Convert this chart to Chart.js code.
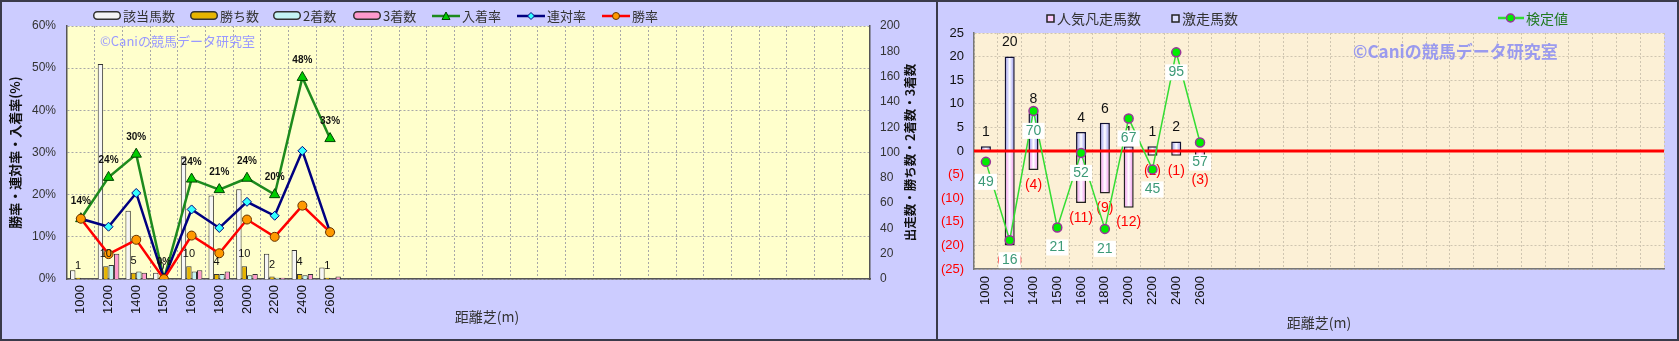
<!DOCTYPE html>
<html lang="ja">
<head>
<meta charset="utf-8">
<title>距離別成績</title>
<script src="https://cdn.jsdelivr.net/npm/chart.js@4.4.0/dist/chart.umd.min.js"></script>
<style>
  html, body { margin: 0; padding: 0; background: #ccccff; }
  #wrap { position: relative; width: 1679px; height: 341px; background: #ccccff; overflow: hidden; }
  .panel { position: absolute; top: 0; height: 341px; }
  #left { left: 0; width: 936px; }
  #right { left: 938px; width: 741px; }
  .frame { position: absolute; top: 0; height: 341px; box-sizing: border-box; border: 2px solid #3a3a4a; pointer-events: none; }
  .lg { position: absolute; display: flex; align-items: center; white-space: nowrap; line-height: 1;
        font-family: "Noto Sans CJK JP", sans-serif; color: #333; }
  .lg svg { display: block; margin-right: 2px; }
</style>
</head>
<body>
<div id="wrap">
  <div class="panel" id="left"><canvas id="rateChart"></canvas></div>
  <div class="panel" id="right"><canvas id="surgeChart"></canvas></div>
  <div class="frame" style="left:0;width:938px"></div>
  <div class="frame" style="left:936px;width:743px"></div>
</div>
<script>
// ---- data ----
const distances = ["1000", "1200", "1400", "1500", "1600", "1800", "2000", "2200", "2400", "2600"];
const slotCount = 29; // the x axis keeps empty slots after 2600
const xLabels = distances.concat(Array(slotCount - distances.length).fill(""));

// left chart: counts
const runners = [7, 170, 54, 5, 97, 66, 71, 20, 23, 9];   // 該当馬数
const wins = [1, 10, 5, 0, 10, 4, 10, 2, 4, 1];           // 勝ち数
const seconds = [0, 11, 6, 0, 6, 4, 3, 1, 3, 0];          // 2着数
const thirds = [0, 20, 5, 0, 7, 6, 4, 1, 4, 2];           // 3着数
// left chart: rates (%)
const placeRate = [14.3, 24.1, 29.6, 0, 23.7, 21.2, 23.9, 20.0, 47.8, 33.3];    // 入着率
const quinellaRate = [14.3, 12.4, 20.4, 0, 16.5, 12.1, 18.3, 15.0, 30.4, 11.1]; // 連対率
const winRate = [14.3, 5.9, 9.3, 0, 10.3, 6.1, 14.1, 10.0, 17.4, 11.1];         // 勝率
const rateTicks = [0, 10, 20, 30, 40, 50, 60];

// right chart
const surgeCount = [1, 20, 8, 0, 4, 6, 1, 1, 2, 0];       // 激走馬数
const flopCount = [0, 20, 4, 0, 11, 9, 12, 1, 1, 3];      // 人気凡走馬数 (drawn below zero)
const testValue = [-2.3, -18.9, 8.5, -16.2, -0.4, -16.5, 6.9, -3.9, 20.9, 1.8]; // 検定値 (plot position)
const testLabels = ["49", "16", "70", "21", "52", "21", "67", "45", "95", "57"];

const JP = '"Noto Sans CJK JP", sans-serif';
const NUM = '"Liberation Sans", Arial, sans-serif';
Chart.defaults.font.family = NUM;
Chart.defaults.animation = false;

// ---- html legends ----
function barIcon(fill) {
    return `<svg width="28" height="9" viewBox="0 0 28 9"><rect x="0.75" y="0.75" width="26.5" height="7.5" rx="3.5" fill="${fill}" stroke="#333" stroke-width="1.5"/></svg>`;
}
function lineIcon(color, marker, w) {
    return `<svg width="${w}" height="12" viewBox="0 0 ${w} 12"><line x1="0" y1="6" x2="${w}" y2="6" stroke="${color}" stroke-width="2.5"/>${marker}</svg>`;
}
function boxIcon(fill) {
    return `<svg width="9" height="9" viewBox="0 0 9 9"><rect x="1" y="1" width="7" height="7" fill="${fill}" stroke="#222" stroke-width="1.5"/></svg>`;
}
function addLegend(items, top, size) {
    const wrap = document.getElementById("wrap");
    items.forEach((it) => {
        const d = document.createElement("div");
        d.className = "lg";
        d.style.left = it.x + "px";
        d.style.top = top + "px";
        d.style.fontSize = size + "px";
        if (it.color) d.style.color = it.color;
        d.innerHTML = it.icon + "<span>" + it.text + "</span>";
        wrap.appendChild(d);
    });
}
addLegend([
    {x: 93, text: "該当馬数", icon: barIcon("#f4f4f4")},
    {x: 190, text: "勝ち数", icon: barIcon("#e6b400")},
    {x: 273, text: "2着数", icon: barIcon("#c4f4f4")},
    {x: 353, text: "3着数", icon: barIcon("#ff99cc")},
    {x: 432, text: "入着率", icon: lineIcon("#1d8a1d", '<polygon points="14,2 18,9.5 10,9.5" fill="#00cc00" stroke="#004400"/>', 28)},
    {x: 517, text: "連対率", icon: lineIcon("#000080", '<polygon points="14,2.5 17.5,6 14,9.5 10.5,6" fill="#33ffff" stroke="#000080"/>', 28)},
    {x: 602, text: "勝率", icon: lineIcon("#ff0000", '<circle cx="14" cy="6" r="3.5" fill="#ff9900" stroke="#663300"/>', 28)}
], 9, 13);
addLegend([
    {x: 1046, text: "人気凡走馬数", icon: boxIcon("#ffccff")},
    {x: 1171, text: "激走馬数", icon: boxIcon("#dde0ff")},
    {x: 1498, text: "検定値", color: "#1f7a1f", icon: lineIcon("#33dd33", '<circle cx="12.5" cy="6" r="4" fill="#00ee00" stroke="#993399" stroke-width="1.5"/>', 26)}
], 11, 14);

function drawText(ctx, text, x, y, font, color, rotate) {
    ctx.save();
    ctx.font = font;
    ctx.fillStyle = color;
    ctx.textAlign = "center";
    ctx.textBaseline = "middle";
    ctx.translate(x, y);
    if (rotate) ctx.rotate(rotate);
    ctx.fillText(text, 0, 0);
    ctx.restore();
}

// ---- left chart: counts and rates by distance ----
const leftDecor = {
    id: "leftDecor",
    beforeDraw(chart) {
        const {ctx, chartArea: a} = chart;
        ctx.save();
        ctx.fillStyle = "#ffffcc";
        ctx.fillRect(a.left, a.top, a.width, a.height);
        ctx.restore();
    },
    beforeDatasetsDraw(chart) {
        const ctx = chart.ctx;
        ctx.save();
        ctx.font = "13px " + JP;
        ctx.fillStyle = "#9999ff";
        ctx.textBaseline = "middle";
        ctx.fillText("©Caniの競馬データ研究室", 100, 41);
        ctx.restore();
    },
    afterDatasetsDraw(chart) {
        const ctx = chart.ctx;
        // win counts above the 勝ち数 bars
        chart.getDatasetMeta(1).data.forEach((el, i) => {
            drawText(ctx, String(wins[i]), el.x, el.y - 12, "11px " + NUM, "#111");
        });
        // 入着率 labels above the triangles
        chart.getDatasetMeta(4).data.forEach((el, i) => {
            drawText(ctx, Math.round(placeRate[i]) + "%", el.x, el.y - 17, "bold 10px " + NUM, "#111");
        });
    },
    afterDraw(chart) {
        const a = chart.chartArea;
        drawText(chart.ctx, "出走数・勝ち数・2着数・3着数", 910, (a.top + a.bottom) / 2, "bold 12.5px " + JP, "#111", -Math.PI / 2);
        drawText(chart.ctx, "距離芝(m)", 487, 317, "14px " + JP, "#333");
    }
};

const barBorder = "#333";
new Chart(document.getElementById("rateChart"), {
    type: "bar",
    data: {
        labels: xLabels,
        datasets: [
            {label: "該当馬数", data: runners, yAxisID: "y2", backgroundColor: "#f6f6f6", borderColor: barBorder, borderWidth: 1, order: 3},
            {label: "勝ち数", data: wins, yAxisID: "y2", backgroundColor: "#e6b400", borderColor: barBorder, borderWidth: 1, order: 3},
            {label: "2着数", data: seconds, yAxisID: "y2", backgroundColor: "#c4f4f4", borderColor: barBorder, borderWidth: 1, order: 3},
            {label: "3着数", data: thirds, yAxisID: "y2", backgroundColor: "#ff99cc", borderColor: barBorder, borderWidth: 1, order: 3},
            {
                type: "line", label: "入着率", data: placeRate, yAxisID: "y", order: 2,
                borderColor: "#1d8a1d", borderWidth: 2.5, pointStyle: "triangle", pointRadius: 6,
                pointBackgroundColor: "#00cc00", pointBorderColor: "#004400", pointBorderWidth: 1
            },
            {
                type: "line", label: "連対率", data: quinellaRate, yAxisID: "y", order: 1,
                borderColor: "#000080", borderWidth: 2.5, pointStyle: "rectRot", pointRadius: 4.5,
                pointBackgroundColor: "#33ffff", pointBorderColor: "#000080", pointBorderWidth: 1
            },
            {
                type: "line", label: "勝率", data: winRate, yAxisID: "y", order: 0,
                borderColor: "#ff0000", borderWidth: 2.5, pointStyle: "circle", pointRadius: 4.5,
                pointBackgroundColor: "#ff9900", pointBorderColor: "#663300", pointBorderWidth: 1
            }
        ]
    },
    options: {
        responsive: true,
        maintainAspectRatio: false,
        layout: {padding: {top: 26, left: 0, right: 1, bottom: 10}},
        datasets: {bar: {categoryPercentage: 0.78, barPercentage: 1.0}},
        plugins: {legend: {display: false}, tooltip: {enabled: false}},
        scales: {
            x: {
                grid: {color: "#a8a8a8", drawTicks: false, offset: true},
                border: {color: "#555", width: 1.5, dash: [2, 2]},
                ticks: {autoSkip: false, maxRotation: 90, minRotation: 90, padding: 6, color: "#111", font: {size: 13}},
                afterFit: (s) => { s.height = 52; }
            },
            y: {
                position: "left", min: 0, max: 60,
                afterBuildTicks: (s) => { s.ticks = rateTicks.map((v) => ({value: v})); },
                ticks: {callback: (v) => v + "%", padding: 11, color: "#333", font: {size: 12}},
                grid: {color: "#a8a8a8", drawTicks: false},
                border: {color: "#555", width: 1.5, dash: [2, 2]},
                title: {display: true, text: "勝率・連対率・入着率(%)", color: "#111", font: {family: JP, size: 13, weight: "bold"}, padding: {top: 7, bottom: 0}},
                afterFit: (s) => { s.width = 67; }
            },
            y2: {
                position: "right", min: 0, max: 200,
                ticks: {stepSize: 20, padding: 10, color: "#333", font: {size: 12}},
                grid: {display: false, drawTicks: false},
                border: {color: "#555", width: 1.5},
                afterFit: (s) => { s.width = 65; }
            }
        }
    },
    plugins: [leftDecor]
});

// ---- right chart: surge / flop counts and test value ----
function barGradient(edge, mid) {
    return (c) => {
        const chart = c.chart;
        if (!chart.chartArea || !chart.scales.x || c.type !== "data") return mid;
        const x = chart.scales.x.getPixelForValue(c.dataIndex);
        const g = chart.ctx.createLinearGradient(x - 5, 0, x + 5, 0);
        g.addColorStop(0, edge);
        g.addColorStop(0.5, "#ffffff");
        g.addColorStop(1, edge);
        return g;
    };
}

const rightDecor = {
    id: "rightDecor",
    beforeDraw(chart) {
        const {ctx, chartArea: a} = chart;
        ctx.save();
        ctx.fillStyle = "#fcf0d6";
        ctx.fillRect(a.left, a.top, a.width, a.height);
        ctx.restore();
    },
    beforeDatasetsDraw(chart) {
        const ctx = chart.ctx;
        ctx.save();
        ctx.font = "bold 17px " + JP;
        ctx.fillStyle = "#9a9aee";
        ctx.textBaseline = "middle";
        ctx.fillText("©Caniの競馬データ研究室", 415, 52);
        ctx.restore();
    },
    beforeDatasetDraw(chart, args) {
        if (args.index !== 2) return;
        const {ctx, chartArea: a, scales: {y}} = chart;
        const y0 = y.getPixelForValue(0);
        ctx.save();
        ctx.strokeStyle = "#ff0000";
        ctx.lineWidth = 3;
        ctx.beginPath();
        ctx.moveTo(a.left, y0);
        ctx.lineTo(a.right, y0);
        ctx.stroke();
        ctx.restore();
        chart.getDatasetMeta(1).data.forEach((el, i) => {
            if (surgeCount[i] > 0) drawText(ctx, String(surgeCount[i]), el.x, el.y - 14, "14px " + NUM, "#111");
        });
        chart.getDatasetMeta(0).data.forEach((el, i) => {
            if (flopCount[i] > 0) drawText(ctx, "(" + flopCount[i] + ")", el.x, el.y + 15, "14px " + NUM, "#ff0000");
        });
    },
    afterDatasetsDraw(chart) {
        const ctx = chart.ctx;
        chart.getDatasetMeta(2).data.forEach((el, i) => {
            const cy = el.y + 20;
            ctx.save();
            ctx.fillStyle = "#ffffff";
            ctx.fillRect(el.x - 11, cy - 8, 22, 16);
            ctx.restore();
            drawText(ctx, testLabels[i], el.x, cy, "14px " + NUM, "#3d9a78");
        });
    }
};

new Chart(document.getElementById("surgeChart"), {
    type: "bar",
    data: {
        labels: xLabels,
        datasets: [
            {label: "人気凡走馬数", data: flopCount.map((v) => -v), backgroundColor: barGradient("#ee88ee", "#ffccff"), borderColor: "#222", borderWidth: 1.5, order: 2},
            {label: "激走馬数", data: surgeCount, backgroundColor: barGradient("#8c8cf0", "#dde0ff"), borderColor: "#111133", borderWidth: 1.5, order: 2},
            {
                type: "line", label: "検定値", data: testValue, order: 0,
                borderColor: "#33dd33", borderWidth: 1.5, pointRadius: 4.5,
                pointBackgroundColor: "#00ee00", pointBorderColor: "#993399", pointBorderWidth: 1.5
            }
        ]
    },
    options: {
        responsive: true,
        maintainAspectRatio: false,
        layout: {padding: {top: 33, left: 0, right: 15, bottom: 10}},
        datasets: {bar: {categoryPercentage: 0.9, barPercentage: 0.47}},
        plugins: {legend: {display: false}, tooltip: {enabled: false}},
        scales: {
            x: {
                stacked: true,
                grid: {color: "#cfc5b0", drawTicks: false, offset: true},
                border: {color: "#777", width: 1.5, dash: [2, 2]},
                ticks: {autoSkip: false, maxRotation: 90, minRotation: 90, padding: 7, color: "#111", font: {size: 13}},
                title: {display: true, text: "距離芝(m)", color: "#333", font: {family: JP, size: 14}, padding: {top: 0, bottom: 0}},
                afterFit: (s) => { s.height = 62; }
            },
            y: {
                stacked: true, min: -25, max: 25,
                ticks: {
                    stepSize: 5, padding: 10, font: {size: 13},
                    callback: (v) => (v < 0 ? "(" + (-v) + ")" : String(v)),
                    color: (c) => (c.tick && c.tick.value < 0 ? "#ff0000" : "#111")
                },
                grid: {color: "#cfc5b0", drawTicks: false},
                border: {color: "#777", width: 1.5, dash: [2, 2]},
                afterFit: (s) => { s.width = 36; }
            }
        }
    },
    plugins: [rightDecor]
});
</script>
</body>
</html>
